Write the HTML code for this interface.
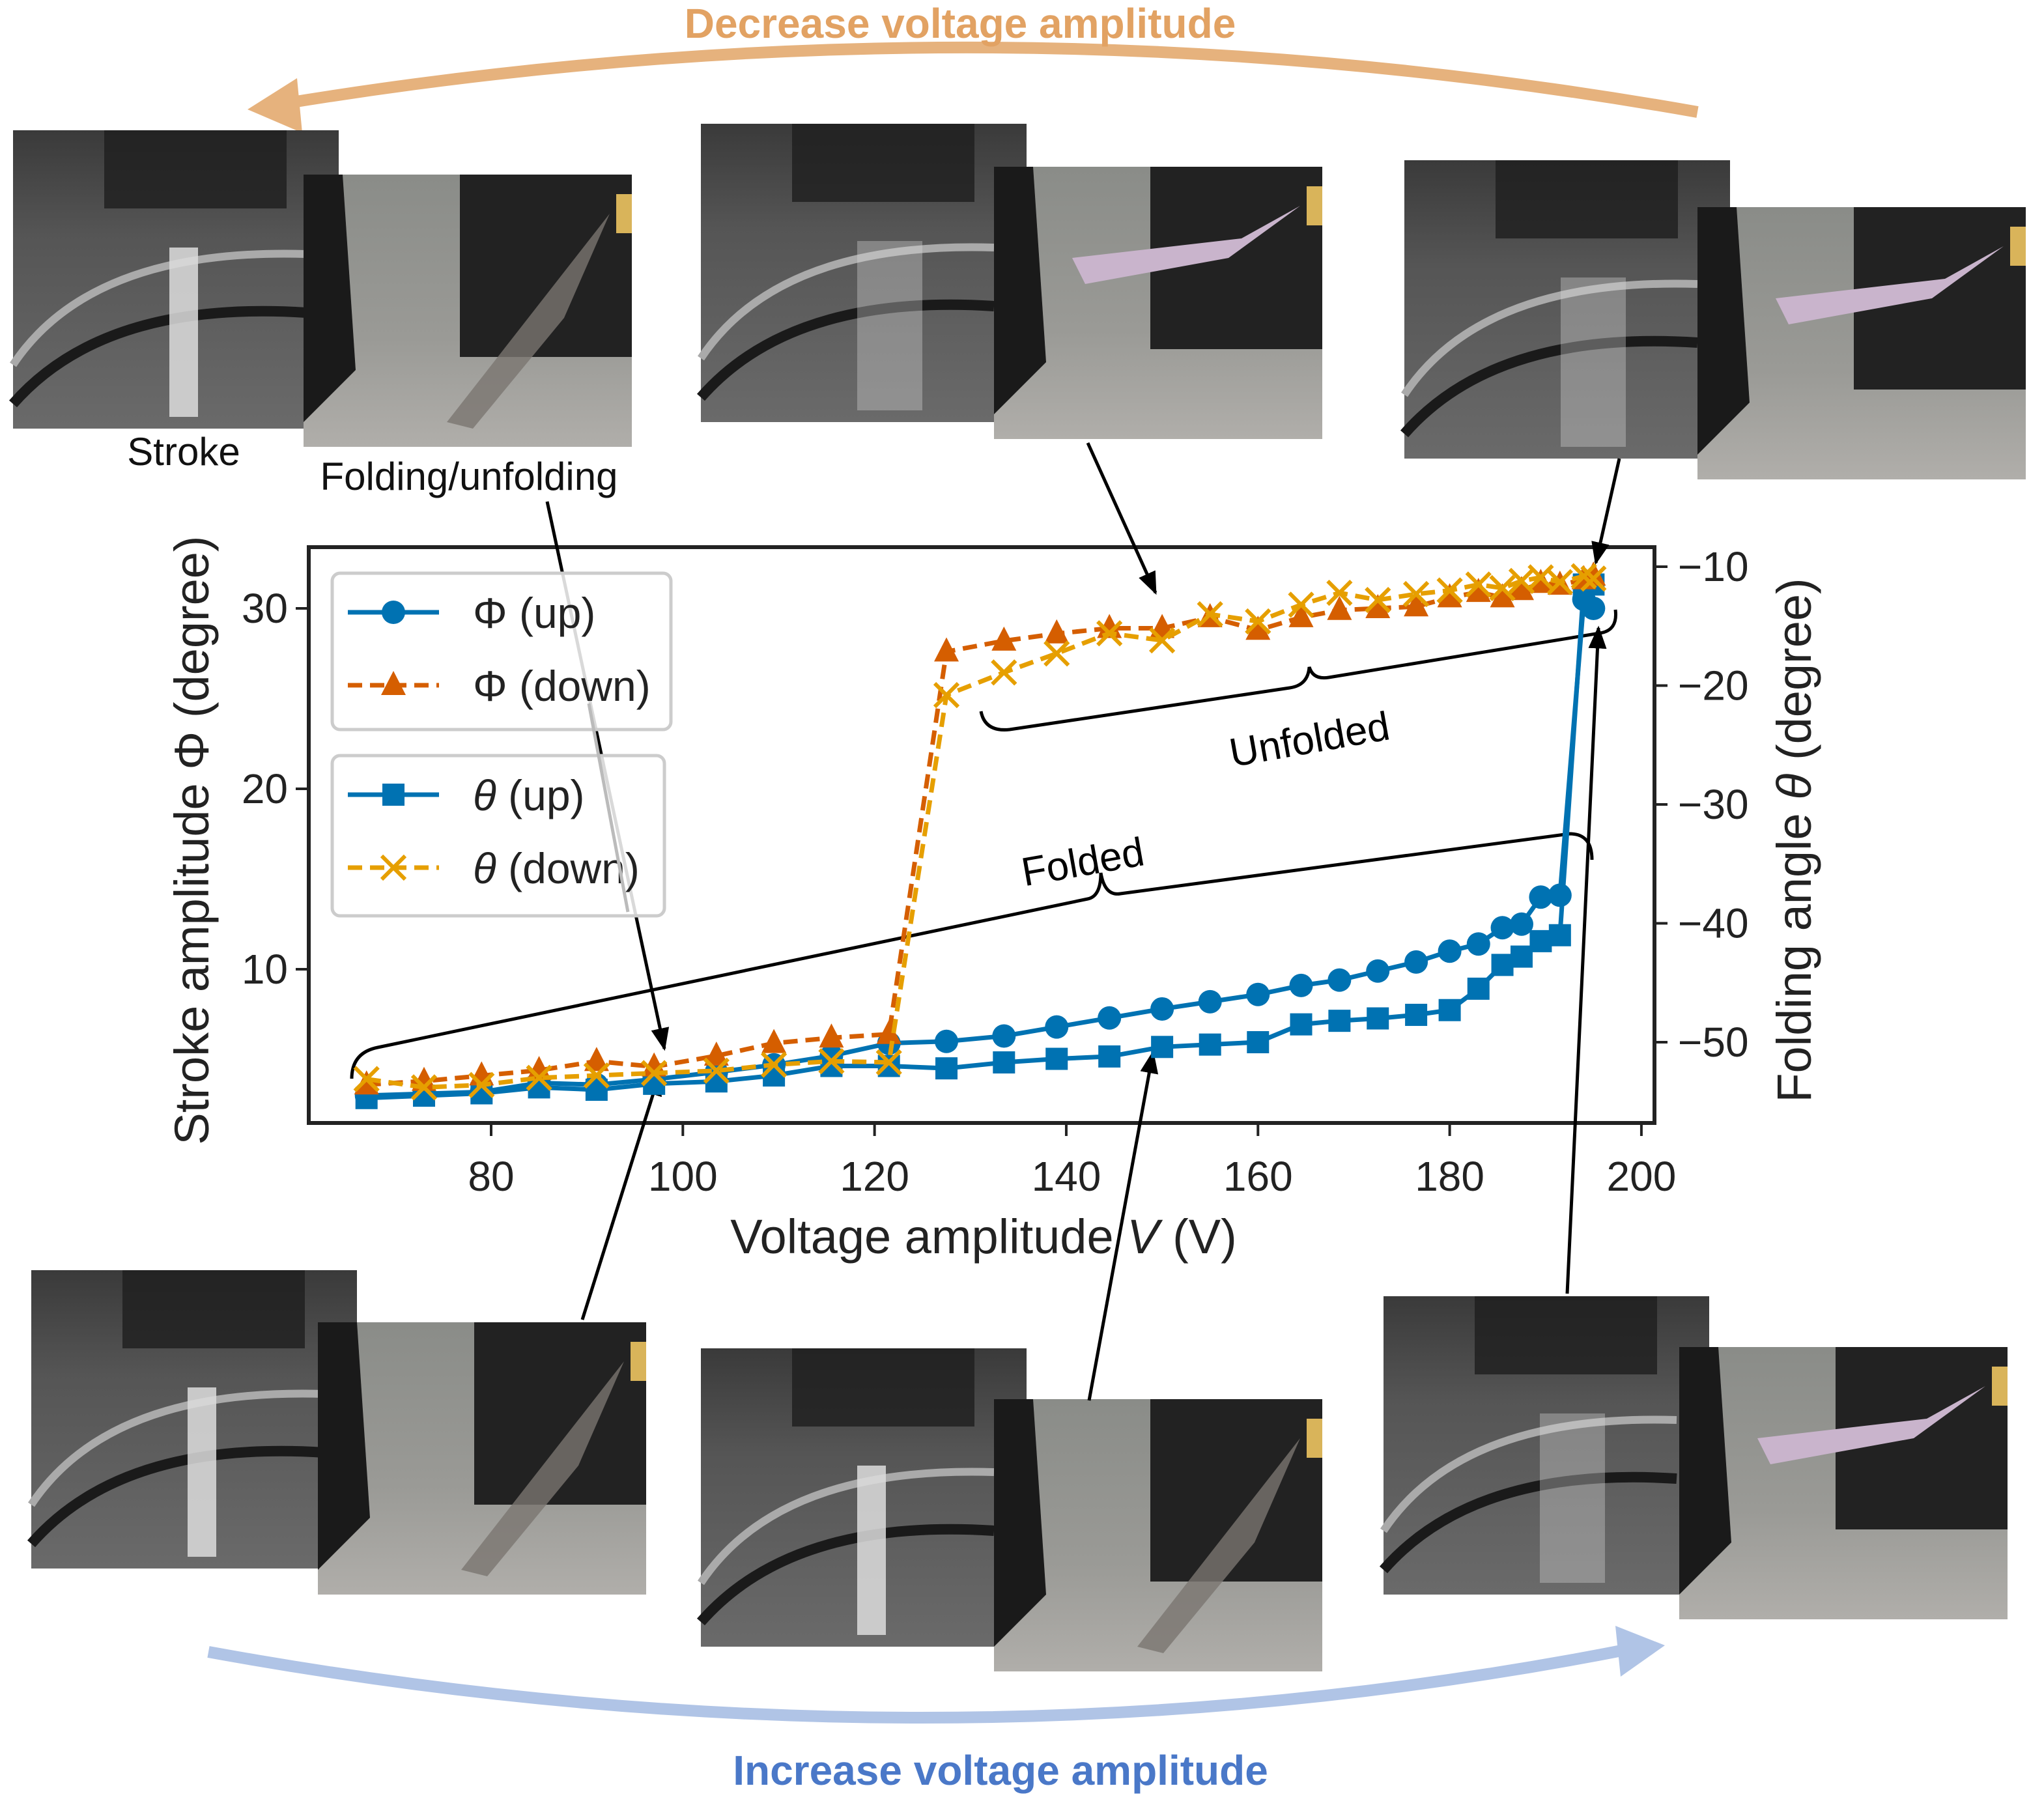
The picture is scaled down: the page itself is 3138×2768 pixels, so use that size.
<!DOCTYPE html>
<html><head><meta charset="utf-8"><style>
html,body{margin:0;padding:0;background:#fff;}
svg{display:block;font-family:"Liberation Sans",sans-serif;}
</style></head><body>
<svg id="fig" width="3138" height="2768" viewBox="0 0 1569 1384" xmlns="http://www.w3.org/2000/svg">
<defs>
<linearGradient id="camg" x1="0" y1="0" x2="0" y2="1"><stop offset="0" stop-color="#3a3a3a"/><stop offset="0.35" stop-color="#555"/><stop offset="1" stop-color="#6a6a6a"/></linearGradient>
<linearGradient id="sideg" x1="0" y1="0" x2="0" y2="1"><stop offset="0" stop-color="#8a8c88"/><stop offset="0.6" stop-color="#9a9a96"/><stop offset="1" stop-color="#b0aeaa"/></linearGradient>
<marker id="ah" viewBox="0 0 10 10" refX="9" refY="5" markerWidth="7" markerHeight="7" orient="auto"><path d="M0,1 L10,5 L0,9 z" fill="#000"/></marker>
</defs>

<path d="M1303,86 Q760,-10 215,80" fill="none" stroke="#e6b27d" stroke-width="9"/>
<polygon points="190,84 228,60 232,102" fill="#e6b27d"/>
<text x="737" y="29" text-anchor="middle" font-size="32" font-weight="bold" fill="#e2a263">Decrease voltage amplitude</text>
<path d="M160,1268 Q720,1370 1250,1266" fill="none" stroke="#b0c4e6" stroke-width="9"/>
<polygon points="1278,1263 1240,1248 1244,1287" fill="#b0c4e6"/>
<text x="768" y="1370" text-anchor="middle" font-size="32" font-weight="bold" fill="#4a78c8">Increase voltage amplitude</text>

<g id="photos"></g>

<text x="141" y="357" text-anchor="middle" font-size="30" fill="#111">Stroke</text>
<text x="360" y="376" text-anchor="middle" font-size="30" fill="#111">Folding/unfolding</text>

<rect x="237" y="420" width="1033" height="442" fill="#fff" stroke="#222" stroke-width="3"/>
<g id="axes"></g>
<g id="annot"></g>
<g id="series"></g>
<g id="legend"></g>

<text x="755" y="962" text-anchor="middle" font-size="37" fill="#222">Voltage amplitude <tspan font-style="italic">V</tspan> (V)</text>
<text transform="translate(160,645) rotate(-90)" text-anchor="middle" font-size="37" fill="#222">Stroke amplitude Φ (degree)</text>
<text transform="translate(1390,645) rotate(-90)" text-anchor="middle" font-size="37" fill="#222">Folding angle <tspan font-style="italic">θ</tspan> (degree)</text>
</svg>
<script>
const volts=[67,73,79,85,91,97,103.5,109.5,115.5,121.5,127.5,133.5,139,144.5,150,155,160,164.5,168.5,172.5,176.5,180,183,185.5,187.5,189.5,191.5,194,195];
const phiUp=[3.0,3.1,3.2,3.7,3.6,3.9,4.3,4.7,5.2,5.9,6.0,6.3,6.8,7.3,7.8,8.2,8.6,9.1,9.4,9.9,10.4,11.0,11.4,12.3,12.5,14.0,14.1,30.5,30.0];
const thetaUp=[-54.7,-54.5,-54.3,-53.8,-54.0,-53.5,-53.3,-52.8,-52.0,-52.0,-52.2,-51.7,-51.4,-51.2,-50.4,-50.2,-50.0,-48.5,-48.2,-48.0,-47.7,-47.3,-45.5,-43.5,-42.8,-41.5,-41.0,-11.5,-11.5];
const phiDown=[3.6,3.8,4.1,4.4,4.9,4.6,5.2,5.9,6.2,6.4,27.6,28.2,28.6,28.9,28.9,29.5,28.8,29.5,29.9,30.0,30.1,30.6,30.9,30.6,31.0,31.4,31.3,31.6,31.8];
const thetaDown=[-53.1,-53.8,-53.6,-53.0,-52.8,-52.6,-52.4,-51.9,-51.6,-51.7,-20.8,-18.9,-17.3,-15.6,-16.2,-14.0,-14.6,-13.2,-12.2,-12.8,-12.3,-12.0,-11.5,-11.8,-11.2,-10.9,-11.3,-10.8,-11.0];
const xTicks=[80,100,120,140,160,180,200];
const yLeftTicks=[10,20,30];
const yRightTicks=[-10,-20,-30,-40,-50];

const NS="http://www.w3.org/2000/svg";
const xs=v=>377+(v-80)*7.358;
const yl=p=>744-(p-10)*13.85;
const yr=t=>435-(t+10)*9.125;
function mk(tag,attrs,parent){const e=document.createElementNS(NS,tag);for(const k in attrs)e.setAttribute(k,attrs[k]);parent.appendChild(e);return e;}

const photos=document.getElementById('photos');
const pairs=[[10,100,233,134],[538,95,763,128],[1078,123,1303,159],[24,975,244,1015],[538,1035,763,1074],[1062,995,1289,1034]];
const unfolded=[false,true,true,false,false,true];
pairs.forEach((p,i)=>{
  const g=mk('g',{},photos);
  
  
  const [cx,cy,sx,sy]=p;
  const c=mk('rect',{x:cx,y:cy,width:250,height:229,fill:'url(#camg)'},g);
  
  
  mk('rect',{x:cx+70,y:cy,width:140,height:60,fill:'#1e1e1e',opacity:0.8},g);
  mk('path',{d:`M${cx},${cy+180} Q${cx+60},${cy+90} ${cx+225},${cy+95}`,fill:'none',stroke:'#aaa','stroke-width':6},g);
  mk('path',{d:`M${cx},${cy+210} Q${cx+70},${cy+130} ${cx+225},${cy+140}`,fill:'none',stroke:'#1a1a1a','stroke-width':8},g);
  mk('rect',{x:cx+120,y:cy+90,width:unfolded[i]?50:22,height:130,fill:'#ddd',opacity:unfolded[i]?0.35:0.85},g);
  const s=mk('rect',{x:sx,y:sy,width:252,height:209,fill:'url(#sideg)'},g);
  
  
  mk('rect',{x:sx+120,y:sy,width:132,height:140,fill:'#222'},g);
  mk('path',{d:`M${sx},${sy} L${sx+30},${sy} L${sx+40},${sy+150} L${sx},${sy+190} z`,fill:'#1a1a1a'},g);
  mk('rect',{x:sx+240,y:sy+15,width:12,height:30,fill:'#d9b45a'},g);
  if(unfolded[i]) mk('path',{d:`M${sx+235},${sy+30} L${sx+190},${sy+55} L${sx+60},${sy+70} L${sx+70},${sy+90} L${sx+180},${sy+70} z`,fill:'#c9b4cc'},g);
  else mk('path',{d:`M${sx+235},${sy+30} L${sx+110},${sy+190} L${sx+130},${sy+195} L${sx+200},${sy+110} z`,fill:'#7a7570',opacity:0.8},g);
});

const axes=document.getElementById('axes');
xTicks.forEach(v=>{
  const t=mk('line',{x1:xs(v),x2:xs(v),y1:862,y2:872,stroke:'#222','stroke-width':2},axes);
  
  
  const l=mk('text',{x:xs(v),y:914,'text-anchor':'middle','font-size':32,fill:'#222'},axes);
  l.textContent=v;
  
  
});
yLeftTicks.forEach(v=>{
  const t=mk('line',{x1:227,x2:237,y1:yl(v),y2:yl(v),stroke:'#222','stroke-width':2},axes);
  
  
  const l=mk('text',{x:221,y:yl(v)+11,'text-anchor':'end','font-size':32,fill:'#222'},axes);
  l.textContent=v;
  
  
});
yRightTicks.forEach(v=>{
  const t=mk('line',{x1:1270,x2:1280,y1:yr(v),y2:yr(v),stroke:'#222','stroke-width':2},axes);
  
  
  const l=mk('text',{x:1288,y:yr(v)+11,'font-size':32,fill:'#222'},axes);
  l.textContent='\u2212'+Math.abs(v);
  
  
});

const an=document.getElementById('annot');
const fb=mk('path',{d:'M270,828 Q270,808 290,804 L835,690 Q845,688 845,670 Q848,688 860,686 L1205,640 Q1222,640 1222,660',fill:'none',stroke:'#000','stroke-width':2.5},an);


const ub=mk('path',{d:'M753,546 Q756,562 775,560 L990,528 Q1004,526 1005,512 Q1008,522 1020,520 L1228,486 Q1242,484 1240,468',fill:'none',stroke:'#000','stroke-width':2.5},an);


const ft=mk('text',{x:0,y:0,'font-size':31,fill:'#000','text-anchor':'middle',transform:'translate(833,672) rotate(-10)'},an);
ft.textContent='Folded';


const ut=mk('text',{x:0,y:0,'font-size':31,fill:'#000','text-anchor':'middle',transform:'translate(1007,578) rotate(-10)'},an);
ut.textContent='Unfolded';


const arrows=[[420,385,510,805],[835,340,887,455],[1243,352,1225,432],[447,1013,506,825],[836,1075,885,808],[1203,993,1227,482]];
arrows.forEach(a=>{
  const l=mk('line',{x1:a[0],y1:a[1],x2:a[2],y2:a[3],stroke:'#000','stroke-width':2.5,'marker-end':'url(#ah)'},an);
  
  
});

const sg=document.getElementById('series');
const BLUE='#0072b2',RED='#d55e00',ORG='#e69f00';
function marker(kind,x,y,col,g){
  if(kind==='circle') return mk('circle',{cx:x,cy:y,r:9,fill:col},g);
  if(kind==='square') return mk('rect',{x:x-8.5,y:y-8.5,width:17,height:17,fill:col},g);
  if(kind==='tri') return mk('polygon',{points:`${x},${y-11} ${x-9.5},${y+7.5} ${x+9.5},${y+7.5}`,fill:col},g);
  return mk('path',{d:`M${x-9},${y-9}L${x+9},${y+9}M${x-9},${y+9}L${x+9},${y-9}`,stroke:col,'stroke-width':3},g);
}
function series(name,vals,yf,col,dash,kind){
  const g=mk('g',{},sg);
  
  
  const pts=volts.map((v,i)=>xs(v)+','+yf(vals[i])).join(' ');
  const p=mk('polyline',{points:pts,fill:'none',stroke:col,'stroke-width':3.5,'stroke-dasharray':dash?'11,6':'none'},g);
  
  
  volts.forEach((v,i)=>{
    const m=marker(kind,xs(v),yf(vals[i]),col,g);
    
    
  });
}
series('theta-up',thetaUp,yr,BLUE,false,'square');
series('phi-up',phiUp,yl,BLUE,false,'circle');
series('phi-down',phiDown,yl,RED,true,'tri');
series('theta-down',thetaDown,yr,ORG,true,'x');

const lg=document.getElementById('legend');
function legendBox(x,y,w,h,entries,name){
  const g=mk('g',{},lg);
  
  
  mk('rect',{x:x,y:y,width:w,height:h,rx:6,fill:'#fff','fill-opacity':0.85,stroke:'#ccc','stroke-width':2.5},g);
  entries.forEach((e,i)=>{
    const yy=y+30+i*56;
    const eg=mk('g',{},g);
    
    
    mk('line',{x1:x+12,x2:x+82,y1:yy,y2:yy,stroke:e.col,'stroke-width':3.5,'stroke-dasharray':e.dash?'11,6':'none'},eg);
    marker(e.kind,x+47,yy,e.col,eg);
    const t=mk('text',{x:x+108,y:yy+12,'font-size':33,fill:'#222'},eg);
    t.innerHTML=e.label;
  });
}
legendBox(255,440,260,120,[{col:BLUE,dash:false,kind:'circle',label:'Φ (up)'},{col:RED,dash:true,kind:'tri',label:'Φ (down)'}],'legend-phi');
legendBox(255,580,255,123,[{col:BLUE,dash:false,kind:'square',label:'<tspan font-style="italic">θ</tspan> (up)'},{col:ORG,dash:true,kind:'x',label:'<tspan font-style="italic">θ</tspan> (down)'}],'legend-theta');
const ga=mk('line',{x1:452,y1:540,x2:482,y2:700,stroke:'#bbb','stroke-width':2.5},lg);


</script>
</body></html>
